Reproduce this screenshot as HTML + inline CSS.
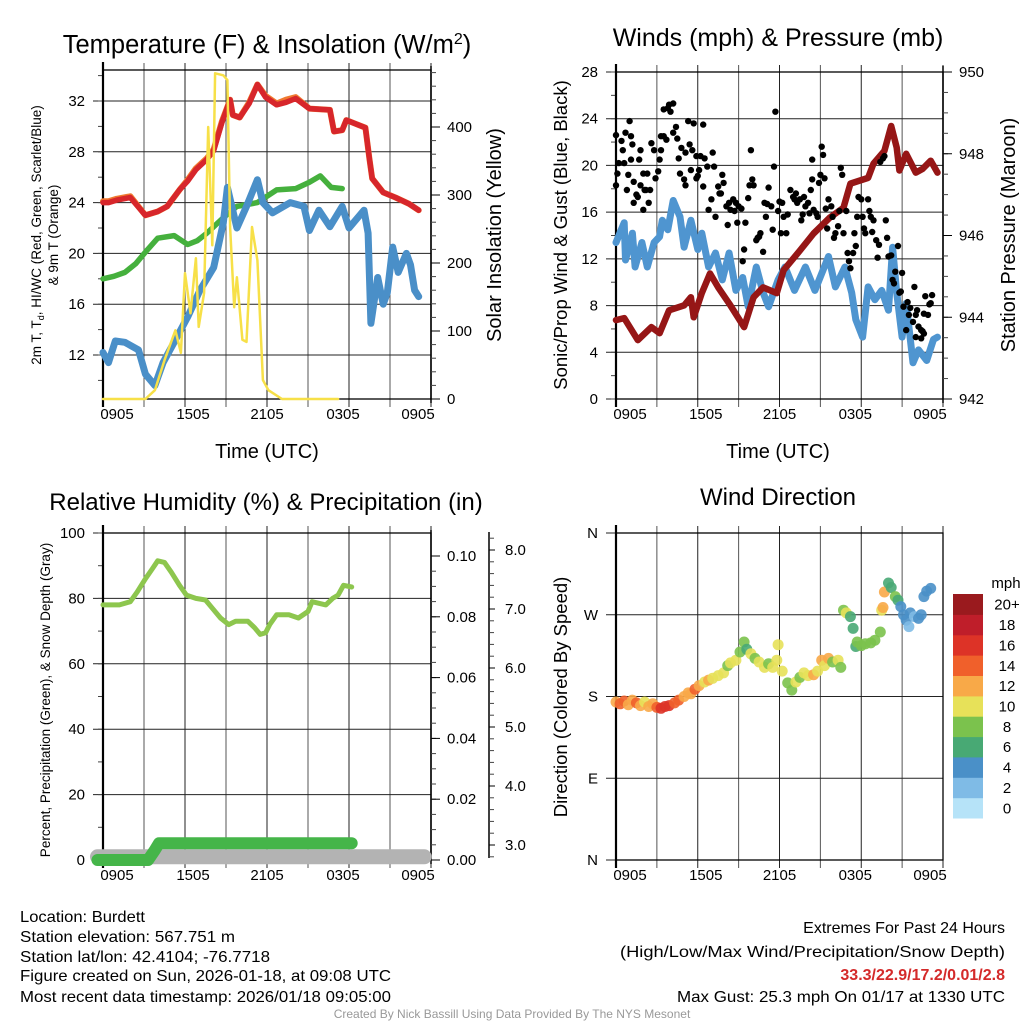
<!DOCTYPE html>
<html><head><meta charset="utf-8"><style>
html,body{margin:0;padding:0;background:#fff;}
svg{display:block;font-family:"Liberation Sans",Arial,sans-serif;}
</style></head><body>
<svg id="chart" width="1024" height="1024" viewBox="0 0 1024 1024" xmlns="http://www.w3.org/2000/svg">
<rect width="1024" height="1024" fill="#fff"/>
<text x="267" y="53" font-size="25.5" text-anchor="middle">Temperature (F) &amp; Insolation (W/m<tspan dy="-9" font-size="16">2</tspan><tspan dy="9">)</tspan></text>
<text x="778" y="46" font-size="25" text-anchor="middle">Winds (mph) &amp; Pressure (mb)</text>
<text x="266" y="510" font-size="24" text-anchor="middle">Relative Humidity (%) &amp; Precipitation (in)</text>
<text x="778" y="505" font-size="24" text-anchor="middle">Wind Direction</text>
<text x="267" y="458" font-size="20" text-anchor="middle">Time (UTC)</text>
<text x="778" y="458" font-size="20" text-anchor="middle">Time (UTC)</text>
<text transform="translate(41,235) rotate(-90)" font-size="13.5" text-anchor="middle">2m T, T<tspan font-size="9" dy="3">d</tspan><tspan dy="-3">, HI/WC (Red, Green, Scarlet/Blue)</tspan></text>
<text transform="translate(58,235) rotate(-90)" font-size="13.5" text-anchor="middle">&amp; 9m T (Orange)</text>
<text transform="translate(501,235) rotate(-90)" font-size="20" text-anchor="middle">Solar Insolation (Yellow)</text>
<text transform="translate(567,235) rotate(-90)" font-size="18.5" text-anchor="middle">Sonic/Prop Wind &amp; Gust (Blue, Black)</text>
<text transform="translate(1015,235) rotate(-90)" font-size="20" text-anchor="middle">Station Pressure (Maroon)</text>
<text transform="translate(50,700) rotate(-90)" font-size="13.5" text-anchor="middle">Percent, Precipitation (Green), &amp; Snow Depth (Gray)</text>
<text transform="translate(567,697) rotate(-90)" font-size="18.5" text-anchor="middle">Direction (Colored By Speed)</text>
<g font-size="16">
<text x="20" y="922" textLength="125" lengthAdjust="spacingAndGlyphs">Location: Burdett</text>
<text x="20" y="942" textLength="215" lengthAdjust="spacingAndGlyphs">Station elevation: 567.751 m</text>
<text x="20" y="962" textLength="250" lengthAdjust="spacingAndGlyphs">Station lat/lon: 42.4104; -76.7718</text>
<text x="20" y="981" textLength="371" lengthAdjust="spacingAndGlyphs">Figure created on Sun, 2026-01-18, at 09:08 UTC</text>
<text x="20" y="1002" textLength="371" lengthAdjust="spacingAndGlyphs">Most recent data timestamp: 2026/01/18 09:05:00</text>
</g>
<g font-size="16" text-anchor="end">
<text x="1005" y="933">Extremes For Past 24 Hours</text>
<text x="1005" y="957" textLength="385" lengthAdjust="spacingAndGlyphs">(High/Low/Max Wind/Precipitation/Snow Depth)</text>
<text x="1005" y="980" fill="#d42a2a" font-weight="bold">33.3/22.9/17.2/0.01/2.8</text>
<text x="1005" y="1002" textLength="328" lengthAdjust="spacingAndGlyphs">Max Gust: 25.3 mph On 01/17 at 1330 UTC</text>
</g>
<text x="512" y="1018" font-size="12" fill="#999" text-anchor="middle">Created By Nick Bassill Using Data Provided By The NYS Mesonet</text>
</svg>
<script>
// ---------- data ----------
const xTickLabels = ["0905","1505","2105","0305","0905"];
const tempTicks = [12,16,20,24,28,32];
const solarTicks = [0,100,200,300,400];
const windTicks = [0,4,8,12,16,20,24,28];
const presTicks = [942,944,946,948,950];
const rhTicks = [0,20,40,60,80,100];
const precipTicks = ["0.00","0.02","0.04","0.06","0.08","0.10"];
const snowTicks = ["3.0","4.0","5.0","6.0","7.0","8.0"];
const dirTicks = ["N","E","S","W","N"];
const speedBinLabels = ["0","2","4","6","8","10","12","14","16","18","20+"];

const tempT = [0,0.4,1.0,2.0,3.1,4.0,4.7,5.6,6.2,6.8,7.6,8.1,8.7,9.3,9.5,10.0,10.7,11.3,11.9,12.7,13.4,14.1,15.1,16.6,16.9,17.5,17.8,18.5,19.2,19.5,19.7,20.5,21.4,22.4,23.1];
const tempRed = [24.0,24.0,24.2,24.4,23.0,23.3,23.7,25.0,25.7,26.6,27.4,28.1,30.3,32.1,30.9,30.7,31.8,33.3,32.3,31.7,31.9,32.2,31.4,31.3,29.6,29.7,30.5,30.2,29.9,27.4,25.9,24.8,24.4,23.9,23.4];
const temp9m = [24.1,24.1,24.3,24.5,23.0,23.3,23.7,25.0,25.8,26.7,27.5,28.2,30.4,32.1,30.9,30.7,31.9,33.3,32.4,31.8,32.1,32.3,31.4,31.3,29.6,29.7,30.5,30.2,29.9,27.4,25.9,24.8,24.4,23.9,23.4];
const dewT = [0,0.8,1.6,2.4,3.1,4.0,5.2,6.2,6.9,7.6,8.8,9.8,11.3,12.7,14.1,15.1,15.9,16.7,17.5];
const dewVal = [18.0,18.2,18.5,19.2,20.1,21.2,21.4,20.7,21.0,21.6,22.8,23.7,24.0,25.0,25.1,25.6,26.1,25.2,25.1];
const wcT = [0,0.4,0.9,1.6,2.6,3.1,3.8,4.4,5.2,6.2,7.1,8.1,8.8,9.1,9.8,10.5,11.3,11.7,12.4,13.7,14.7,15.1,15.8,16.6,17.5,18.0,19.1,19.4,19.6,20.1,20.5,20.8,21.2,21.6,22.2,22.5,22.8,23.1];
const wcVal = [12.2,11.4,13.1,13.0,12.4,10.5,9.6,11.4,13.0,15.0,17.1,18.9,22.4,25.2,22.0,23.7,25.8,24.0,23.2,24.0,23.7,21.8,23.4,22.1,23.7,22.0,23.4,21.6,14.5,18.1,16.0,16.9,20.5,18.5,20.0,19.1,17.1,16.6];
const solarT = [0,3.1,3.8,4.5,5.3,5.7,6.0,6.4,6.8,7.0,7.4,7.7,8.0,8.2,8.8,9.1,9.3,9.6,9.8,10.2,10.5,10.9,11.3,11.7,12.1,13.1,17.2];
const solarVal = [0,0,13,57,101,68,185,126,207,106,156,400,226,479,476,469,253,135,179,87,84,253,204,28,13,0,0];

const windT = [0,0.6,0.7,1.2,1.4,1.9,2.3,2.8,3.2,3.4,3.8,4.2,4.7,5.0,5.5,6.0,6.3,6.8,7.3,7.8,8.3,8.8,9.3,9.7,10.3,10.8,11.2,11.9,12.4,13.1,13.9,14.6,15.6,16.1,16.8,17.3,17.6,18.1,18.5,19.0,19.5,20.0,20.3,20.6,21.0,21.3,21.8,22.2,22.8,23.3,23.6];
const windVal = [13.4,15.1,11.9,14.2,11.3,13.4,11.3,13.4,13.9,15.3,14.5,17.0,15.6,13.0,15.3,12.8,14.2,11.3,12.5,10.2,12.5,9.3,10.4,7.9,11.3,9.1,7.9,10.2,11.3,9.3,11.3,9.3,12.2,9.6,11.3,9.1,6.8,5.3,9.6,8.5,9.3,7.6,13.0,9.1,5.3,8.2,3.1,4.2,3.3,5.1,5.3];
const presT = [0,0.6,1.6,2.6,3.2,3.9,5.0,5.5,5.7,6.3,6.9,7.5,8.3,9.4,10.1,10.8,11.8,12.3,13.5,14.5,15.7,16.7,17.2,18.5,18.9,19.7,20.2,20.6,20.8,21.3,22.0,22.5,23.1,23.6];
const presVal = [943.93,943.98,943.44,943.76,943.61,944.17,944.29,944.49,944.0,944.59,945.07,944.73,944.34,943.76,944.49,944.73,944.59,945.15,945.63,946.05,946.44,946.68,947.27,947.41,947.76,948.07,948.68,948.15,947.59,948.0,947.54,947.63,947.83,947.54];
const gustT = [0,0,0.1,0.2,0.4,0.5,0.6,0.7,0.8,0.9,1.0,1.1,1.1,1.2,1.3,1.3,1.5,1.6,1.7,1.8,1.8,2.0,2.0,2.1,2.2,2.3,2.4,2.5,2.6,2.8,2.9,3.1,3.2,3.3,3.3,3.5,3.5,3.7,3.8,3.9,4.0,4.2,4.2,4.4,4.5,4.6,4.7,4.8,5.0,5.1,5.1,5.3,5.4,5.5,5.6,5.7,5.9,5.9,6.0,6.1,6.2,6.4,6.4,6.5,6.7,6.8,7.0,7.1,7.2,7.3,7.5,7.6,7.7,7.8,7.9,8.1,8.2,8.3,8.4,8.6,8.7,8.8,8.9,9.0,9.2,9.3,9.4,9.5,9.7,9.8,9.9,10.0,10.1,10.3,10.4,10.5,10.6,10.8,10.9,11.0,11.1,11.2,11.4,11.5,11.6,11.7,11.9,12.0,12.1,12.2,12.3,12.5,12.6,12.8,13.0,13.1,13.2,13.3,13.5,13.6,13.7,13.8,13.9,14.1,14.2,14.3,14.4,14.4,14.5,14.7,14.8,14.9,15.0,15.1,15.2,15.3,15.4,15.5,15.6,15.8,15.9,16.0,16.1,16.3,16.4,16.5,16.6,16.7,16.9,17.0,17.1,17.2,17.4,17.5,17.6,17.7,17.8,18.0,18.1,18.2,18.3,18.5,18.6,18.7,18.8,18.9,19.1,19.2,19.3,19.4,19.6,19.7,19.8,19.9,20.0,20.2,20.3,20.4,20.5,20.7,20.8,20.9,21.0,21.1,21.3,21.4,21.5,21.6,21.8,21.9,22.0,22.1,22.2,22.4,22.5,22.6,22.7,22.9,23.0,23.1,23.2,22.0,22.4,22.6];
const gustVal = [18.3,22.6,19.3,20.2,22.1,21.3,20.2,22.8,17.9,19.2,23.8,20.5,22.5,21.8,16.8,18.6,17.5,17.3,20.5,18.3,21.3,19.3,16.2,17.9,17.9,19.3,16.8,17.9,21.9,21.3,18.9,19.5,20.5,21.3,22.5,24.8,22.5,22.2,24.9,25.2,24.6,25.3,22.8,23.3,22.3,20.6,19.3,21.5,18.8,18.3,21.1,23.8,21.8,19.6,21.3,23.6,18.9,20.8,19.1,19.6,20.8,18.2,23.5,20.6,19.9,16.2,17.1,21.1,19.9,15.6,18.2,17.6,17.6,19.2,18.5,16.5,14.9,16.8,16.2,17.1,16.1,16.8,15.1,16.5,16.3,11.8,12.8,15.1,17.2,18.3,21.3,18.8,18.3,13.6,13.8,13.9,14.2,12.6,16.8,15.6,16.7,18.1,16.5,14.5,19.9,24.6,16.1,16.9,14.2,16.8,15.6,14.2,15.8,17.9,17.3,17.1,17.6,16.8,17.1,15.3,15.8,17.3,16.5,16.8,15.9,17.9,20.5,18.8,16.2,15.9,15.6,18.5,19.2,21.6,20.9,18.9,16.3,14.6,17.1,16.5,15.6,13.8,14.2,14.8,16.1,19.8,19.2,14.2,16.1,12.5,11.8,11.2,12.5,14.2,13.1,15.6,17.3,17.1,15.6,14.6,14.2,17.1,16.1,15.6,14.3,15.3,13.6,12.1,13.2,20.3,20.6,20.8,15.3,13.8,12.2,12.3,10.2,9.9,10.9,13.1,9.1,9.2,10.8,7.9,5.9,8.3,7.2,7.8,6.6,9.6,7.2,7.6,6.2,5.9,5.8,7.3,8.8,7.2,8.1,8.2,8.9,5.3,5.2,5.6];

const rhT = [0,1.2,2.0,2.5,3.1,3.6,4.0,4.5,5.0,5.6,6.1,6.8,7.5,8.0,8.6,9.2,9.7,10.6,11.1,11.5,11.9,12.2,12.7,13.6,14.3,15.0,15.3,16.3,16.8,17.2,17.6,18.2];
const rhVal = [78,78,79,82,86,89,91.5,91,88,84,81,80,79.5,77,74,72,73,73,71,69,69.5,72,75,75,74,76,79,78,80,81,84,83.5];
const precipT = [-0.4,3.3,3.8,4.1,18.2];
const precipVal = [0,0,0.0033,0.0055,0.0055];
const snowT = [-0.4,23.5];
const snowVal = [2.8,2.8];

const dirT = [0,0.3,0.6,0.9,1.2,1.5,1.8,2.1,2.4,2.7,3.0,3.3,3.6,3.9,4.3,4.6,5.0,5.3,5.5,5.8,6.1,6.5,6.8,7.1,7.5,7.9,8.2,8.4,8.8,9.1,9.4,9.6,9.9,10.2,10.5,10.9,11.2,11.5,11.8,11.9,12.2,12.6,12.9,13.2,13.5,13.8,14.1,14.5,14.8,15.1,15.3,15.6,15.9,16.3,16.5,16.7,16.9,17.2,17.4,17.6,17.7,18.0,18.3,18.7,19.0,19.4,19.5,19.6,19.7,20.0,20.2,20.5,20.7,20.9,21.1,21.3,21.6,21.9,22.2,22.4,22.6,22.8,23.1,21.5];
const dirVal = [174,172,175,171,176,173,170,174,169,172,168,167,169,170,173,176,180,184,183,188,192,196,198,200,203,206,214,217,220,229,240,232,227,222,218,212,216,212,220,237,208,195,187,196,201,206,203,204,208,220,214,222,218,220,212,275,272,268,255,235,240,236,238,239,242,251,275,278,295,305,300,290,286,279,270,264,272,268,266,270,290,296,299,257];
const dirSpd = [13,14,15,13,12,14,12,11,13,12,15,16,17,16,15,14,13,13,12,14,12,11,12,10,11,10,9,10,11,8,8,7,10,9,10,11,9,10,10,11,10,9,8,10,9,10,11,12,10,13,11,12,9,11,8,9,10,7,6,7,8,9,9,8,9,8,10,12,12,6,7,8,7,5,4,4,4,3,5,4,4,4,4,3];
const cbColors = ["#b6e3f8","#7fbbe6","#4a90c8","#48a974","#7bc24d","#e7e159","#f8a948","#f0602b","#dd3327","#bf1e2a","#9a1a1e"];

// ---------- helpers ----------
const svg = document.getElementById('chart');
const NS = 'http://www.w3.org/2000/svg';
function mk(tag, attrs, parent) {
  const e = document.createElementNS(NS, tag);
  for (const k in attrs) e.setAttribute(k, attrs[k]);
  (parent || svg).appendChild(e);
  return e;
}
function lin(d0, d1, r0, r1) { return v => r0 + (v - d0) * (r1 - r0) / (d1 - d0); }
const xLabelOffsets = [14, 8, 0, -6, -13];

function frame(L, T, R, B, xs, hTicks, yMap, leftLabels, leftFmt, minorStep, leftMin, leftMax, namePrefix) {
  const g = mk('g', {});
  
  
  for (let h = 0; h <= 24; h += 3) {
    const x = xs(h);
    const gl = mk('line', {x1: x, y1: T - 7, x2: x, y2: B + 8, stroke: (h / 3) % 2 ? '#555' : '#222', 'stroke-width': 1}, g);
    
    
  }
  hTicks.forEach(v => {
    const y = yMap(v);
    const hl = mk('line', {x1: L - 10, y1: y, x2: R, y2: y, stroke: '#222', 'stroke-width': 1}, g);
    
    
  });
  if (minorStep) {
    for (let v = leftMin; v <= leftMax + 1e-9; v += minorStep) {
      const y = yMap(v);
      const ml = mk('line', {x1: L - 5, y1: y, x2: L, y2: y, stroke: '#444', 'stroke-width': 1}, g);
      
      
    }
  }
  leftLabels.forEach((lab, i) => {
    const t = mk('text', {x: L - 18, y: yMap(hTicks[i]) + 5, 'font-size': 15, 'text-anchor': 'end'}, g);
    t.textContent = leftFmt ? leftFmt(lab) : lab;
    
    
  });
  xTickLabels.forEach((lab, i) => {
    const t = mk('text', {x: xs(i * 6) + xLabelOffsets[i], y: B + 20, 'font-size': 15, 'text-anchor': 'middle'}, g);
    t.textContent = lab;
    
    
  });
  const box = mk('rect', {x: L, y: T, width: R - L, height: B - T, fill: 'none', stroke: '#000', 'stroke-width': 1.3}, g);
  
  
  const la = mk('line', {x1: L, y1: T - 8, x2: L, y2: B + 8, stroke: '#000', 'stroke-width': 2.2}, g);
  
  
  return g;
}
function rightAxis(x, yMap, ticks, labels, minorVals, top, bot, namePrefix, tickOut) {
  const g = mk('g', {});
  
  
  const al = mk('line', {x1: x, y1: top, x2: x, y2: bot, stroke: '#000', 'stroke-width': 1.5}, g);
  
  
  minorVals.forEach(v => {
    const ml = mk('line', {x1: x, y1: yMap(v), x2: x + 5, y2: yMap(v), stroke: '#444', 'stroke-width': 1}, g);
    
    
  });
  ticks.forEach((v, i) => {
    const y = yMap(v);
    const tl = mk('line', {x1: x, y1: y, x2: x + (tickOut || 9), y2: y, stroke: '#000', 'stroke-width': 1}, g);
    
    
    const t = mk('text', {x: x + 16, y: y + 5, 'font-size': 15}, g);
    t.textContent = labels[i];
    
    
  });
}
function pathD(ts, vs, xs, ys) {
  return ts.map((t, i) => (i ? 'L' : 'M') + xs(t).toFixed(1) + ' ' + ys(vs[i]).toFixed(1)).join(' ');
}
function line(ts, vs, xs, ys, color, w, name, cap) {
  const p = mk('path', {d: pathD(ts, vs, xs, ys), fill: 'none', stroke: color, 'stroke-width': w, 'stroke-linejoin': 'round', 'stroke-linecap': cap || 'round'});
  
  
  return p;
}

// ---------- Panel 1: temperature ----------
const x1 = lin(0, 24, 103, 431);
const yT = lin(12, 32, 355, 101);
const yS = lin(0, 400, 399, 127);
frame(103, 70, 431, 399, x1, tempTicks, yT, tempTicks, null, 2, 10, 34, 'temperature');
const solMinor = []; for (let v = 0; v <= 480; v += 20) solMinor.push(v);
rightAxis(431, yS, solarTicks, solarTicks, solMinor, 66, 403, 'insolation');
line(tempT, temp9m, x1, yT, '#f07a30', 6, 'temp-9m-line');
line(tempT, tempRed, x1, yT, '#d7262b', 5.5, 'temp-2m-line');
line(dewT, dewVal, x1, yT, '#45b03d', 5.5, 'dewpoint-line');
line(wcT, wcVal, x1, yT, '#4a8fc8', 7, 'windchill-line');
line(solarT, solarVal, x1, yS, '#f7e048', 2.5, 'insolation-line');

// ---------- Panel 2: winds ----------
const x2 = lin(0, 24, 616, 943);
const yW = lin(0, 28, 399, 72);
const yP = lin(942, 950, 399, 72);
frame(616, 72, 943, 399, x2, windTicks, yW, windTicks, null, 2, 0, 28, 'winds');
const presMinor = []; for (let v = 942; v <= 950.01; v += 0.5) presMinor.push(v);
rightAxis(943, yP, presTicks, presTicks, presMinor, 66, 403, 'pressure');
line(windT, windVal, x2, yW, '#4f95d0', 7, 'sonic-wind-line');
line(presT, presVal, x2, yP, '#961616', 6.5, 'pressure-line');
gustT.forEach((t, i) => {
  const c = mk('circle', {cx: x2(t).toFixed(1), cy: yW(gustVal[i]).toFixed(1), r: 3.2, fill: '#000'});
  
  
});

// ---------- Panel 3: humidity ----------
const x3 = x1;
const yR = lin(0, 100, 860, 533);
const yPr = lin(0, 0.10, 860, 556);
const ySn = lin(3, 8, 845, 550);
frame(103, 533, 431, 860, x3, rhTicks, yR, rhTicks, null, 10, 0, 100, 'humidity');
const prMinor = []; for (let v = 0; v <= 0.105; v += 0.005) prMinor.push(v);
rightAxis(431, yPr, [0,0.02,0.04,0.06,0.08,0.10], precipTicks, prMinor, 530, 864, 'precip');
const snMinor = []; for (let v = 2.8; v <= 8.3; v += 0.2) snMinor.push(v);
rightAxis(489, ySn, [3,4,5,6,7,8], snowTicks, snMinor, 532, 858, 'snow', 6);
line(snowT, snowVal, x3, ySn, '#b3b3b3', 15, 'snow-depth-line');
line(precipT, precipVal, x3, yPr, '#45b549', 12, 'precip-line');
line(rhT, rhVal, x3, yR, '#8dc64e', 5, 'humidity-line');

// ---------- Panel 4: wind direction ----------
const x4 = x2;
const yD = lin(0, 360, 860, 533);
frame(616, 533, 943, 860, x4, [0,90,180,270,360], yD, dirTicks, null, 0, 0, 0, 'direction');
function binColor(s) { return cbColors[Math.min(10, Math.max(0, Math.floor(s / 2)))]; }
dirT.forEach((t, i) => {
  const c = mk('circle', {cx: x4(t).toFixed(1), cy: yD(dirVal[i]).toFixed(1), r: 5.5, fill: binColor(dirSpd[i]), 'fill-opacity': 0.9});
  
  
});
const cb = mk('g', {});


const cbH = (818 - 594) / 11;
cbColors.forEach((col, i) => {
  const y = 818 - (i + 1) * cbH;
  const r = mk('rect', {x: 953, y: y.toFixed(1), width: 30, height: (cbH + 0.5).toFixed(1), fill: col}, cb);
  
  
  const t = mk('text', {x: 1007, y: (y + cbH / 2 + 5.5).toFixed(1), 'font-size': 15, 'text-anchor': 'middle'}, cb);
  t.textContent = speedBinLabels[i];
  
  
});
const mph = mk('text', {x: 1006, y: 588, 'font-size': 15, 'text-anchor': 'middle'}, cb);
mph.textContent = 'mph';


</script>
</body></html>
